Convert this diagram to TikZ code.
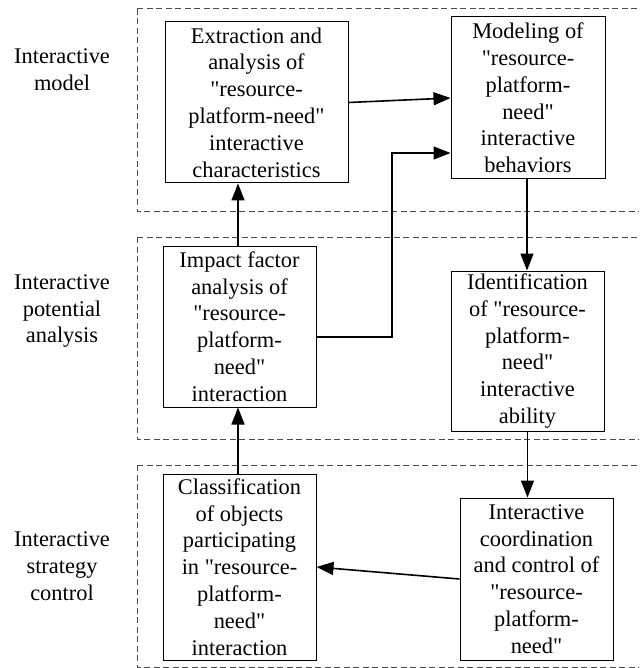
\documentclass[tikz,border=0pt]{standalone}
\usepackage{fontspec}
\setmainfont{Liberation Serif}
\usepackage{tikz}
\usetikzlibrary{positioning,arrows.meta}
\definecolor{Ink}{HTML}{000000}
\definecolor{Frame}{HTML}{4A4A4A}
\newcommand{\dq}{\textquotedbl}

\begin{document}
\begin{tikzpicture}[
      x=1pt, y=-1pt,
      font=\fontsize{22.4}{26.8}\selectfont,
      box/.style={draw=Ink, line width=1pt, inner sep=0pt, minimum width=153pt, align=center},
      lane/.style={draw=Frame, line width=1pt, dash pattern=on 6pt off 3.5pt},
      lab/.style={align=center, inner sep=0pt},
      arr/.style={-{Triangle[length=17pt, width=13pt]}, line width=1.6pt, draw=Ink}
    ]
    \useasboundingbox (0,0) rectangle (639,668);
    \clip (0,0) rectangle (639,668);

    \draw[lane] (137,9) rectangle (660,211);
    \draw[lane] (137,237) rectangle (660,439);
    \draw[lane] (137,465) rectangle (660,667);

    \node[lab] (l1) at (62,70) {Interactive\\model};
    \node[lab] (l2) at (62,311) {Interactive\\potential\\analysis};
    \node[lab] (l3) at (62,566) {Interactive\\strategy\\control};

    \node[box, minimum width=183pt, minimum height=161pt] (ext) at (256.5,102.5)
      {Extraction and\\analysis of\\\dq resource-\\platform-need\dq\\interactive\\characteristics};
    \node[box, minimum width=154pt, minimum height=162pt] (mod) at (528,98)
      {Modeling of\\\dq resource-\\platform-\\need\dq\\interactive\\behaviors};
    \node[box, minimum height=161pt] (imp) at (239.5,326.5)
      {Impact factor\\analysis of\\\dq resource-\\platform-\\need\dq\\interaction};
    \node[box, minimum height=160pt] (idn) at (527.5,351)
      {Identification\\of \dq resource-\\platform-\\need\dq\\interactive\\ability};
    \node[box, minimum height=186pt] (cls) at (239.5,567)
      {Classification\\of objects\\participating\\in \dq resource-\\platform-\\need\dq\\interaction};
    \node[box, minimum height=162pt] (crd) at (536.5,579)
      {Interactive\\coordination\\and control of\\\dq resource-\\platform-\\need\dq};

    \coordinate (bend) at (392,337);

    \draw[arr] (ext.east) -- (mod.west);
    \draw[arr] (imp.east |- bend) -- (bend) |- ([yshift=-55pt]mod.west);
    \draw[arr] ([xshift=-1.5pt]imp.north) -- ([xshift=-1.5pt]imp.north |- ext.south);
    \draw[arr] ([xshift=-1pt]mod.south) -- ([xshift=-1pt]mod.south |- idn.north);
    \draw[arr] (idn.south) -- (idn.south |- crd.north);
    \draw[arr] ([xshift=-1.5pt]cls.north) -- ([xshift=-1.5pt]cls.north |- imp.south);
    \draw[arr] (crd.west) -- (cls.east);
  \end{tikzpicture}
\end{document}
